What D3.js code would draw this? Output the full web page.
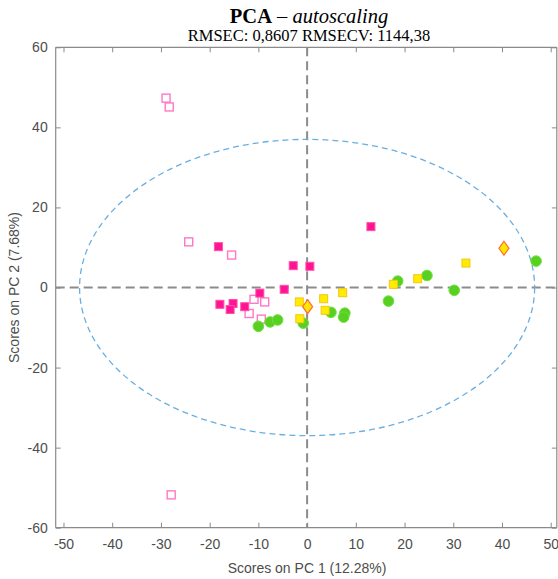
<!DOCTYPE html>
<html>
<head>
<meta charset="utf-8">
<script src="https://cdn.jsdelivr.net/npm/d3@7"></script>
<style>
  html, body { margin: 0; padding: 0; background: #fff; }
  svg { display: block; }
</style>
</head>
<body>
<svg id="chart" width="558" height="579"></svg>
<script>
// PCA score plot (PC1 vs PC2), one array per sample class
const xTicks = [-50, -40, -30, -20, -10, 0, 10, 20, 30, 40, 50];
const yTicks = [-60, -40, -20, 0, 20, 40, 60];

const openPinkX = [-28.95, -28.3, -24.3, -15.5, -27.9, -10.9, -8.7, -11.9, -9.4];
const openPinkY = [47.3, 45.1, 11.4, 8.1, -51.8, -2.95, -3.6, -6.5, -7.9];

const filledPinkX = [-18.2, -2.85, 0.57, 13.1, -4.7, -9.7, -17.9, -15.2, -15.8, -12.8];
const filledPinkY = [10.2, 5.45, 5.3, 15.2, -0.45, -1.4, -4.2, -4.0, -5.5, -4.8];

const yellowX = [-1.6, 3.4, 7.3, 3.7, -1.5, 17.7, 22.7, 32.6];
const yellowY = [-3.6, -2.8, -1.3, -5.7, -7.8, 0.8, 2.2, 6.1];

const diamondX = [0.1, 40.4];
const diamondY = [-4.8, 9.8];

const greenX = [-10.0, -7.6, -6.05, -0.8, 4.9, 7.75, 7.5, 18.6, 16.7, 24.6, 30.2, 47.0];
const greenY = [-9.7, -8.6, -8.1, -8.9, -6.2, -6.4, -7.4, 1.6, -3.4, 3.0, -0.7, 6.6];

// confidence ellipse semi-axes
const ellipseA = 46.7;
const ellipseB = 37.0;

const svg = d3.select("#chart");
const plotLeft = 55.7, plotRight = 556.8, plotTop = 47.3, plotBottom = 527.7;

const x = d3.scaleLinear().domain([-51.6, 51.25]).range([plotLeft, plotRight]);
const y = d3.scaleLinear().domain([-60, 60]).range([plotBottom, plotTop]);

const axisColor = "#8a8a8a";
const textColor = "#4d4d4d";
const sans = "'Liberation Sans', Arial, Helvetica, sans-serif";
const plain = d => String(d);

// frame with inward ticks on all four sides
const gx = svg.append("g").attr("transform", `translate(0,${plotBottom})`)
  .call(d3.axisBottom(x).tickValues(xTicks).tickFormat(plain).tickSizeInner(-5).tickSizeOuter(0).tickPadding(11));
const gxTop = svg.append("g").attr("transform", `translate(0,${plotTop})`)
  .call(d3.axisTop(x).tickValues(xTicks).tickSizeInner(-5).tickSizeOuter(0).tickFormat(""));
const gy = svg.append("g").attr("transform", `translate(${plotLeft},0)`)
  .call(d3.axisLeft(y).tickValues(yTicks).tickFormat(plain).tickSizeInner(-5).tickSizeOuter(0).tickPadding(8));
const gyRight = svg.append("g").attr("transform", `translate(${plotRight},0)`)
  .call(d3.axisRight(y).tickValues(yTicks).tickSizeInner(-5).tickSizeOuter(0).tickFormat(""));

[gx, gxTop, gy, gyRight].forEach(g => {
  g.select(".domain").attr("stroke", axisColor).attr("stroke-width", 1.2);
  g.selectAll(".tick line").attr("stroke", axisColor).attr("stroke-width", 1);
  g.selectAll(".tick text").attr("fill", textColor).style("font-family", sans).style("font-size", "14px");
});
gx.select(".domain").attr("d", `M${plotLeft},0H${plotRight}`);
gxTop.select(".domain").attr("d", `M${plotLeft},0H${plotRight}`);
gy.select(".domain").attr("d", `M0,${plotBottom}V${plotTop}`);
gyRight.select(".domain").attr("d", `M0,${plotBottom}V${plotTop}`);

// zero reference lines
svg.append("line")
  .attr("x1", plotLeft).attr("x2", plotRight).attr("y1", y(0)).attr("y2", y(0))
  .attr("stroke", "#8c8c8c").attr("stroke-width", 2).attr("stroke-dasharray", "9,5");
svg.append("line")
  .attr("x1", x(0)).attr("x2", x(0)).attr("y1", plotTop).attr("y2", plotBottom)
  .attr("stroke", "#8c8c8c").attr("stroke-width", 2).attr("stroke-dasharray", "9,5");

// ellipse
svg.append("ellipse")
  .attr("cx", x(0)).attr("cy", y(0))
  .attr("rx", x(ellipseA) - x(0)).attr("ry", y(0) - y(ellipseB))
  .attr("fill", "none").attr("stroke", "#6aaee0").attr("stroke-width", 1.3)
  .attr("stroke-dasharray", "6,4");

const pts = (xs, ys) => xs.map((v, i) => ({ x: v, y: ys[i] }));
const plot = svg.append("g");

const sq = 8;
plot.selectAll(".op").data(pts(openPinkX, openPinkY)).join("rect")
  .attr("x", d => x(d.x) - sq / 2).attr("y", d => y(d.y) - sq / 2)
  .attr("width", sq).attr("height", sq)
  .attr("fill", "none").attr("stroke", "#ff77c8").attr("stroke-width", 1.4);

plot.selectAll(".fp").data(pts(filledPinkX, filledPinkY)).join("rect")
  .attr("x", d => x(d.x) - sq / 2).attr("y", d => y(d.y) - sq / 2)
  .attr("width", sq).attr("height", sq)
  .attr("fill", "#ff1493").attr("stroke", "#ff50a8").attr("stroke-width", 1);

plot.selectAll(".gr").data(pts(greenX, greenY)).join("circle")
  .attr("cx", d => x(d.x)).attr("cy", d => y(d.y)).attr("r", 5.3)
  .attr("fill", "#58d022").attr("stroke", "#6ee03a").attr("stroke-width", 1);

plot.selectAll(".ye").data(pts(yellowX, yellowY)).join("rect")
  .attr("x", d => x(d.x) - sq / 2).attr("y", d => y(d.y) - sq / 2)
  .attr("width", sq).attr("height", sq)
  .attr("fill", "#ffec00").attr("stroke", "#f5c518").attr("stroke-width", 1);

plot.selectAll(".di").data(pts(diamondX, diamondY)).join("path")
  .attr("transform", d => `translate(${x(d.x)},${y(d.y)})`)
  .attr("d", "M0,-7L5,0L0,7L-5,0Z")
  .attr("fill", "#ffe600").attr("stroke", "#ff6a3a").attr("stroke-width", 1.2);

// title
const title = svg.append("text")
  .attr("x", 309).attr("y", 23).attr("text-anchor", "middle")
  .style("font-family", "'Liberation Serif', 'Times New Roman', serif")
  .style("font-size", "20.5px").attr("fill", "#000");
title.append("tspan").attr("font-weight", "bold").text("PCA");
title.append("tspan").text(" – ");
title.append("tspan").attr("font-style", "italic").text("autoscaling");

svg.append("text")
  .attr("x", 309).attr("y", 41).attr("text-anchor", "middle")
  .style("font-family", "'Liberation Serif', 'Times New Roman', serif")
  .style("font-size", "16.5px").attr("fill", "#000")
  .text("RMSEC: 0,8607 RMSECV: 1144,38");

// axis labels
svg.append("text")
  .attr("x", 307).attr("y", 573).attr("text-anchor", "middle")
  .style("font-family", sans).style("font-size", "14px").attr("fill", textColor)
  .text("Scores on PC 1 (12.28%)");

svg.append("text")
  .attr("transform", `translate(19,${y(0)}) rotate(-90)`)
  .attr("text-anchor", "middle")
  .style("font-family", sans).style("font-size", "14px").attr("fill", textColor)
  .text("Scores on PC 2 (7.68%)");
</script>
</body>
</html>
